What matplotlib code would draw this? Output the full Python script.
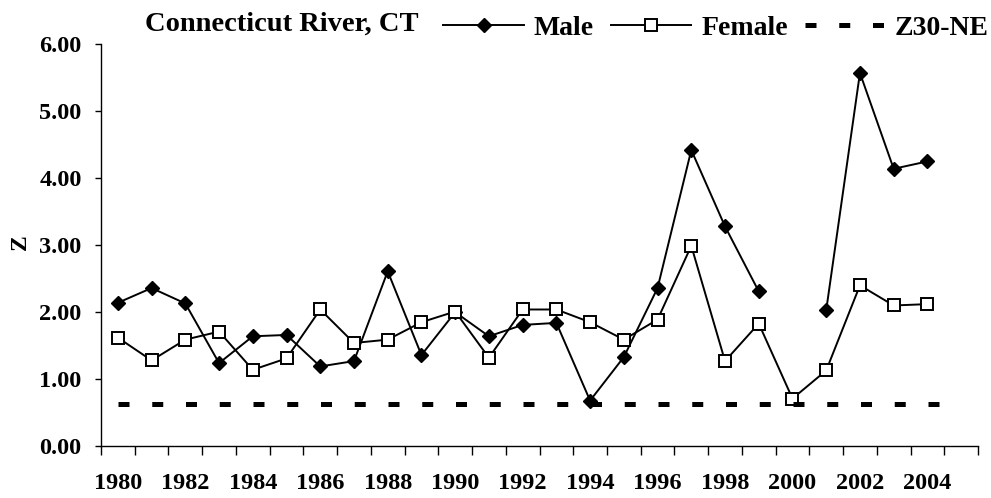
"""
Connecticut River, CT - Z by year for male and female, with the Z30-NE reference.
"""

import numpy as np
import matplotlib
matplotlib.use("Agg")
import matplotlib.pyplot as plt

# --------- data --------- #

years = list(range(1980, 2006))

male = [2.13, 2.35, 2.12, 1.23, 1.63, 1.65, 1.18, 1.26, 2.60, 1.35,
        1.99, 1.63, 1.80, 1.83, 0.67, 1.32, 2.35, 4.41, 3.27, 2.30,
        np.nan, 2.02, 5.56, 4.13, 4.24, np.nan]

female = [1.61, 1.27, 1.58, 1.70, 1.13, 1.30, 2.03, 1.53, 1.58, 1.84,
          2.00, 1.31, 2.03, 2.03, 1.84, 1.58, 1.88, 2.98, 1.26, 1.82,
          0.70, 1.12, 2.39, 2.09, 2.11, np.nan]

z30_ne = [0.62] * len(years)

y_ticks = [0, 1, 2, 3, 4, 5, 6]

# --------- plot --------- #

plt.rcParams["font.family"] = "Liberation Serif"
plt.rcParams["font.weight"] = "bold"

W, H = 991, 498
fig = plt.figure(figsize=(W / 100, H / 100), dpi=100)
ax = fig.add_axes([101 / W, 1 - 445.5 / H, (978 - 101) / W, (445.5 - 43.5) / H])

x = np.arange(len(years))

ax.plot(x, male, color="black", lw=1.4, marker="D", ms=7.6,
        mfc="black", mec="black", mew=1, label="Male")
ax.plot(x, female, color="black", lw=1.4, marker="s", ms=9,
        mfc="white", mec="black", mew=1.4, label="Female")
ax.plot(x, z30_ne, color="black", lw=3.6, dashes=(2.2, 4.55),
        label="Z30-NE")

ax.set_xlim(-0.5, len(years) - 0.5)
ax.set_ylim(0, 6)

# category boundaries carry the tick marks, labels sit at the centres
ax.set_xticks(np.arange(-0.5, len(years), 1.0))
ax.set_xticklabels([])
ax.tick_params(axis="x", which="major", direction="out", length=6.5, width=1)
ax.set_xticks(x[::2], [str(y) for y in years[::2]], minor=True)
ax.tick_params(axis="x", which="minor", length=0, pad=20, labelsize=17.5)

ax.set_yticks(y_ticks)
ax.set_yticklabels([f"{v:.2f}" for v in y_ticks])
ax.tick_params(axis="y", direction="out", length=4.5, width=1,
               labelsize=17.5, pad=9.4)

for side in ["top", "right"]:
    ax.spines[side].set_visible(False)
for side in ["left", "bottom"]:
    ax.spines[side].set_linewidth(1)

fig.text(20.5 / W, 1 - 242 / H, "Z", fontsize=17, fontweight="bold",
         rotation=90, ha="center", va="center")

fig.text(145 / W, 1 - 30.7 / H, "Connecticut River, CT", fontsize=20.5,
         fontweight="bold", ha="left", va="baseline")

fig.legend(loc="center right", bbox_to_anchor=(989 / W, 1 - 28 / H), ncol=3,
           frameon=False, fontsize=20, handlelength=2.9, handletextpad=0.36,
           columnspacing=0.6, borderaxespad=0, borderpad=0)

fig.savefig("out.png", dpi=100)
